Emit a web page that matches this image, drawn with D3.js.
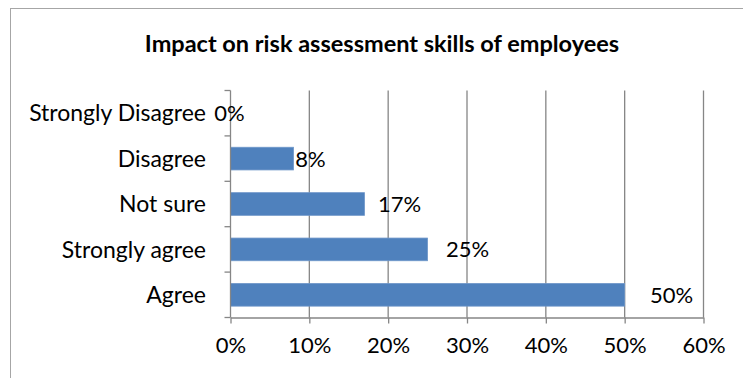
<!DOCTYPE html>
<html>
<head>
<meta charset="utf-8">
<script src="https://cdn.jsdelivr.net/npm/d3@7"></script>
<style>
  html, body { margin: 0; padding: 0; background: #fff; }
  svg { display: block; }
  text { font-family: Lato, "Open Sans", sans-serif; fill: #000; }
</style>
</head>
<body>
<svg id="chart" width="743" height="378"></svg>
<script>
// Survey responses, listed bottom to top as they appear on the chart
const categories = ["Agree", "Strongly agree", "Not sure", "Disagree", "Strongly Disagree"];
const shares = [50, 25, 17, 8, 0];
const valueLabels = ["50%", "25%", "17%", "8%", "0%"];
const xTicks = [0, 10, 20, 30, 40, 50, 60];
const title = "Impact on risk assessment skills of employees";

// Horizontal nudge of each value label past its bar end (layout only)
const labelNudge = [47, 40, 35, 17, -1];

const W = 743, H = 378;
const plot = { left: 230.5, right: 703.5, top: 90.5, bottom: 317.5 };

const svg = d3.select("#chart");

// Outer chart frame
svg.append("rect")
  .attr("x", 10.5).attr("y", 8.5)
  .attr("width", W + 20).attr("height", H + 20)
  .attr("fill", "none").attr("stroke", "#a6a6a6").attr("stroke-width", 1);

svg.append("text")
  .attr("x", 382).attr("y", 52)
  .attr("text-anchor", "middle")
  .style("font-weight", "700").style("font-size", "23.5px")
  .text(title);

const x = d3.scaleLinear().domain([0, 60]).range([plot.left, plot.right]);
const y = d3.scaleBand()
  .domain(categories.slice().reverse())
  .range([plot.top, plot.bottom])
  .paddingInner(0.5).paddingOuter(0.25);
const yEdges = d3.scaleLinear().domain([0, categories.length]).range([plot.top, plot.bottom]);

// Vertical gridlines
svg.append("g")
  .selectAll("line")
  .data(xTicks.filter(t => t > 0))
  .join("line")
  .attr("x1", d => x(d)).attr("x2", d => x(d))
  .attr("y1", plot.top).attr("y2", plot.bottom)
  .attr("stroke", "#868686").attr("stroke-width", 1.3);

// Bars
svg.append("g")
  .selectAll("rect")
  .data(categories.map((c, i) => ({ c, v: shares[i], i })))
  .join("rect")
  .attr("x", x(0))
  .attr("y", d => y(d.c))
  .attr("width", d => x(d.v) - x(0))
  .attr("height", y.bandwidth())
  .attr("fill", "#4f81bd")
  .attr("stroke", "#6f97c9").attr("stroke-width", 0.8);

// Bottom axis
const xAxis = d3.axisBottom(x)
  .tickValues(xTicks)
  .tickFormat(d => d + "%")
  .tickSize(6)
  .tickSizeOuter(0)
  .tickPadding(14);
const gx = svg.append("g")
  .attr("transform", `translate(0,${plot.bottom})`)
  .call(xAxis);
gx.select(".domain").attr("stroke", "#868686").attr("stroke-width", 1.3);
gx.selectAll(".tick line").attr("stroke", "#868686").attr("stroke-width", 1.3);
gx.selectAll(".tick text")
  .style("font-size", "22px").style("font-family", "Lato, sans-serif").attr("fill", "#000");

// Left axis: category boundary ticks and labels
svg.append("line")
  .attr("x1", plot.left).attr("x2", plot.left)
  .attr("y1", plot.top).attr("y2", plot.bottom)
  .attr("stroke", "#868686").attr("stroke-width", 1.3);
svg.append("g")
  .selectAll("line")
  .data(d3.range(categories.length + 1))
  .join("line")
  .attr("x1", plot.left - 6).attr("x2", plot.left)
  .attr("y1", d => yEdges(d)).attr("y2", d => yEdges(d))
  .attr("stroke", "#868686").attr("stroke-width", 1.3);

svg.append("g")
  .selectAll("text")
  .data(categories)
  .join("text")
  .attr("x", 206)
  .attr("y", d => y(d) + y.bandwidth() / 2)
  .attr("dy", "0.36em")
  .attr("text-anchor", "end")
  .style("font-size", "23px")
  .text(d => d);

// Value labels
svg.append("g")
  .selectAll("text")
  .data(categories.map((c, i) => ({ c, v: shares[i], i })))
  .join("text")
  .attr("x", d => x(d.v) + labelNudge[d.i])
  .attr("y", d => y(d.c) + y.bandwidth() / 2)
  .attr("dy", "0.36em")
  .attr("text-anchor", "middle")
  .style("font-size", "22px")
  .text(d => valueLabels[d.i]);
</script>
</body>
</html>
